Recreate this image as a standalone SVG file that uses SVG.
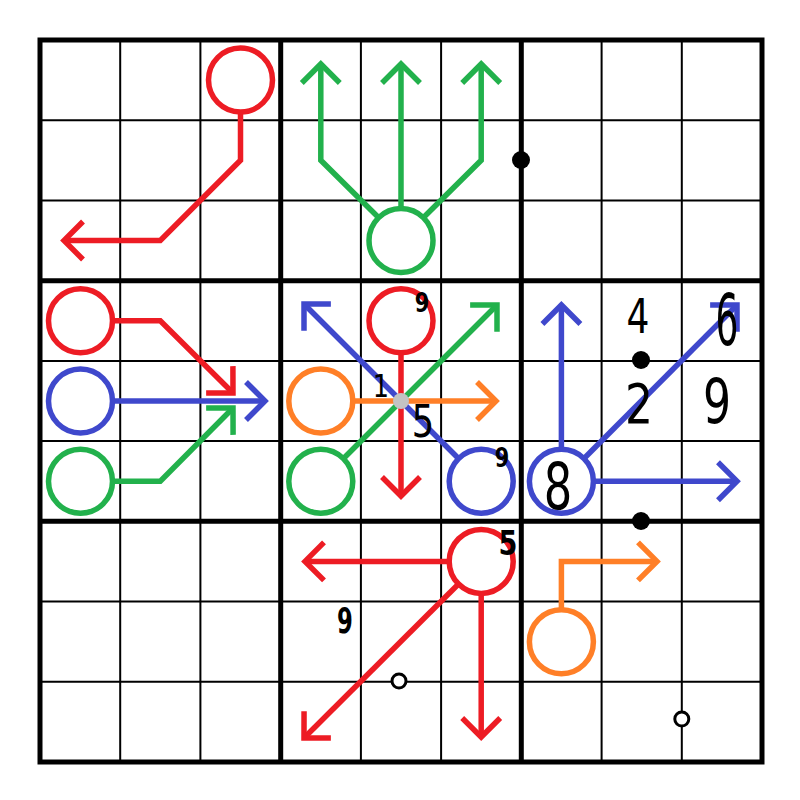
<svg xmlns="http://www.w3.org/2000/svg" width="800" height="800" viewBox="0 0 800 800">
<style>
.thin{stroke:#000;stroke-width:2;fill:none}
.thick{stroke:#000;stroke-width:5;fill:none}
.r{stroke:#ED1C24}.g{stroke:#22B14C}.b{stroke:#3F48CC}.o{stroke:#FF7F27}
.node{fill:#fff;stroke-width:5.5}
.ln{fill:none;stroke-width:5.5;stroke-linejoin:miter}
.dig{font-family:"DejaVu Sans","Liberation Sans",sans-serif;fill:#000;text-anchor:middle}
</style>
<defs>
<marker id="ar" markerUnits="userSpaceOnUse" markerWidth="60" markerHeight="60" refX="0" refY="0" viewBox="-30 -30 60 60" orient="auto" overflow="visible"><path d="M-19,-19 L0,0 L-19,19" fill="none" stroke="#ED1C24" stroke-width="5.5"/></marker>
<marker id="ag" markerUnits="userSpaceOnUse" markerWidth="60" markerHeight="60" refX="0" refY="0" viewBox="-30 -30 60 60" orient="auto" overflow="visible"><path d="M-19,-19 L0,0 L-19,19" fill="none" stroke="#22B14C" stroke-width="5.5"/></marker>
<marker id="ab" markerUnits="userSpaceOnUse" markerWidth="60" markerHeight="60" refX="0" refY="0" viewBox="-30 -30 60 60" orient="auto" overflow="visible"><path d="M-19,-19 L0,0 L-19,19" fill="none" stroke="#3F48CC" stroke-width="5.5"/></marker>
<marker id="ao" markerUnits="userSpaceOnUse" markerWidth="60" markerHeight="60" refX="0" refY="0" viewBox="-30 -30 60 60" orient="auto" overflow="visible"><path d="M-19,-19 L0,0 L-19,19" fill="none" stroke="#FF7F27" stroke-width="5.5"/></marker>
</defs>
<rect width="800" height="800" fill="#fff"/>
<g id="grid">
<path class="thin" d="M120.2,40V762M200.4,40V762M360.9,40V762M441.1,40V762M601.6,40V762M681.8,40V762M40,120.2H762M40,200.4H762M40,360.9H762M40,441.1H762M40,601.6H762M40,681.8H762"/>
<path class="thick" d="M280.7,40V762M521.3,40V762M40,280.7H762M40,521.3H762"/>
<rect class="thick" x="40" y="40" width="722" height="722"/>
</g>
<g id="connectors">
<polyline class="ln r" points="240.5,112 240.5,160.3 160.3,240.5 64,240.5" marker-end="url(#ar)"/>
<polyline class="ln g" points="401,208.5 401,64" marker-end="url(#ag)"/>
<polyline class="ln g" points="378,217 320.8,160.3 320.8,64" marker-end="url(#ag)"/>
<polyline class="ln g" points="424,217 481.2,160.3 481.2,64" marker-end="url(#ag)"/>
<polyline class="ln r" points="112,320.8 160.3,320.8 233,393" marker-end="url(#ar)"/>
<polyline class="ln b" points="112,401 265,401" marker-end="url(#ab)"/>
<polyline class="ln g" points="112,481.2 160.3,481.2 233,408" marker-end="url(#ag)"/>
<polyline class="ln r" points="401,353 401,496" marker-end="url(#ar)"/>
<polyline class="ln o" points="353,401 496,401" marker-end="url(#ao)"/>
<polyline class="ln g" points="343.5,458.5 497,305" marker-end="url(#ag)"/>
<polyline class="ln b" points="458.5,458.5 304,304" marker-end="url(#ab)"/>
<polyline class="ln b" points="561.4,449 561.4,305" marker-end="url(#ab)"/>
<polyline class="ln b" points="593.5,481.2 737,481.2" marker-end="url(#ab)"/>
<polyline class="ln b" points="584,458.5 737,305" marker-end="url(#ab)"/>
<polyline class="ln r" points="449,561.4 305,561.4" marker-end="url(#ar)"/>
<polyline class="ln r" points="481.2,593.5 481.2,737" marker-end="url(#ar)"/>
<polyline class="ln r" points="458.5,584 304,738" marker-end="url(#ar)"/>
<polyline class="ln o" points="561.4,609.5 561.4,561.4 657,561.4" marker-end="url(#ao)"/>
</g>
<g id="n1"><circle class="node r" cx="240.5" cy="80" r="32"/></g>
<g id="n2"><circle class="node g" cx="401" cy="240.5" r="32"/></g>
<g id="n3"><circle class="node r" cx="80.5" cy="320.8" r="32"/></g>
<g id="n4"><circle class="node b" cx="80.5" cy="401" r="32"/></g>
<g id="n5"><circle class="node g" cx="80.5" cy="481.2" r="32"/></g>
<g id="n6"><circle class="node r" cx="401" cy="320.8" r="32"/></g>
<g id="n7"><circle class="node o" cx="320.8" cy="401" r="32"/></g>
<g id="n8"><circle class="node g" cx="320.8" cy="481.2" r="32"/></g>
<g id="n9"><circle class="node b" cx="481.2" cy="481.2" r="32"/></g>
<g id="n10"><circle class="node b" cx="561.4" cy="481.2" r="32"/></g>
<g id="n11"><circle class="node r" cx="481.2" cy="561.4" r="32"/></g>
<g id="n12"><circle class="node o" cx="561.4" cy="641.7" r="32"/></g>
<g id="marks">
<circle cx="521" cy="160" r="9" fill="#000"/>
<circle cx="641" cy="360" r="9" fill="#000"/>
<circle cx="641" cy="521" r="9" fill="#000"/>
<circle cx="401" cy="401" r="8" fill="#c3c3c3"/>
<circle cx="399" cy="681" r="7" fill="#fff" stroke="#000" stroke-width="3"/>
<circle cx="681.8" cy="719" r="7" fill="#fff" stroke="#000" stroke-width="3"/>
</g>
<g id="digits">
<text class="dig" font-size="26" font-weight="bold" transform="translate(422,312) scale(0.8,1)">9</text>
<text class="dig" font-size="32" transform="translate(381,397) scale(0.8,1)">1</text>
<text class="dig" font-size="44" transform="translate(423,437) scale(0.8,1)">5</text>
<text class="dig" font-size="26" font-weight="bold" transform="translate(502,467) scale(0.8,1)">9</text>
<text class="dig" font-size="48" transform="translate(638,333) scale(0.75,1)">4</text>
<text class="dig" font-size="72" transform="translate(727,345) scale(0.5,1)">6</text>
<text class="dig" font-size="55" transform="translate(639,423) scale(0.8,1)">2</text>
<text class="dig" font-size="63" transform="translate(717,423) scale(0.7,1)">9</text>
<text class="dig" font-size="64" transform="translate(558,509) scale(0.7,1)">8</text>
<text class="dig" font-size="34" font-weight="bold" transform="translate(508,555) scale(0.8,1)">5</text>
<text class="dig" font-size="35" font-weight="bold" transform="translate(345,633) scale(0.65,1)">9</text>
</g>
</svg>
